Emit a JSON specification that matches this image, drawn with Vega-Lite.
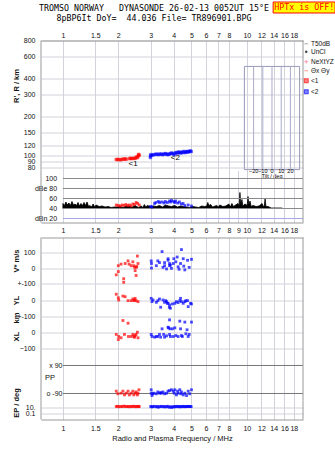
{
"$schema":"https://vega.github.io/schema/vega-lite/v6.json",
"padding":{"left":11,"top":1.5,"right":0,"bottom":0},
"background":"white",
"title":{"text":["TROMSO NORWAY\u00a0\u00a0\u00a0DYNASONDE 26-02-13 0052UT 15°E","8pBP6It DoY=\u00a0\u00a044.036 File= TR896901.BPG"],"font":"DejaVu Sans Mono","fontSize":8.3,"fontWeight":"normal","color":"#000","lineHeight":10,"anchor":"start","align":"center","dx":113,"offset":-20.5,"frame":"group"},
"datasets":{
"h":[
{"s":"<1","f":1.95,"h":92.5},{"s":"<1","f":1.98,"h":92.5},{"s":"<1","f":2.02,"h":92.5},{"s":"<1","f":2.06,"h":92},{"s":"<1","f":2.1,"h":93},{"s":"<1","f":2.14,"h":93},{"s":"<1","f":2.18,"h":93.5},{"s":"<1","f":2.21,"h":93},{"s":"<1","f":2.3,"h":94},{"s":"<1","f":2.33,"h":94.5},{"s":"<1","f":2.37,"h":94},{"s":"<1","f":2.41,"h":94.5},{"s":"<1","f":2.45,"h":94.5},{"s":"<1","f":2.49,"h":95},{"s":"<1","f":2.52,"h":97},{"s":"<1","f":2.55,"h":96},{"s":"<1","f":2.57,"h":99},{"s":"<1","f":2.6,"h":100},{"s":"<1","f":2.58,"h":101.5},
{"s":"<2","f":2.99,"h":96},{"s":"<2","f":3.0,"h":99},{"s":"<2","f":3.01,"h":101},{"s":"<2","f":3.06,"h":100},{"s":"<2","f":3.12,"h":101},{"s":"<2","f":3.18,"h":101.5},{"s":"<2","f":3.24,"h":102},{"s":"<2","f":3.3,"h":101},{"s":"<2","f":3.36,"h":102},{"s":"<2","f":3.42,"h":102},{"s":"<2","f":3.48,"h":101},{"s":"<2","f":3.54,"h":102},{"s":"<2","f":3.6,"h":103},{"s":"<2","f":3.66,"h":102},{"s":"<2","f":3.72,"h":101},{"s":"<2","f":3.78,"h":102},{"s":"<2","f":3.84,"h":103},{"s":"<2","f":3.9,"h":104},{"s":"<2","f":3.96,"h":103},{"s":"<2","f":4.02,"h":101},{"s":"<2","f":4.08,"h":104},{"s":"<2","f":4.14,"h":105},{"s":"<2","f":4.2,"h":104},{"s":"<2","f":4.26,"h":106},{"s":"<2","f":4.32,"h":105},{"s":"<2","f":4.38,"h":104},{"s":"<2","f":4.44,"h":106},{"s":"<2","f":4.5,"h":105},{"s":"<2","f":4.56,"h":107},{"s":"<2","f":4.62,"h":105},{"s":"<2","f":4.68,"h":106},{"s":"<2","f":4.74,"h":107},{"s":"<2","f":4.8,"h":106},{"s":"<2","f":4.86,"h":107},{"s":"<2","f":4.92,"h":108},{"s":"<2","f":4.98,"h":107}
],
"hlab":[{"s":"<1","f":2.41,"h":86},{"s":"<2","f":4.09,"h":95.5}],
"tilt":[{"t":-20},{"t":-10},{"t":0},{"t":10},{"t":20}],
"ampref":[{"db":100,"lab":"100"},{"db":80,"lab":"dBe 80"},{"db":60,"lab":"60"},{"db":40,"lab":"40"}],
"amp":[
{"f":1.0,"db":50},{"f":1.02,"db":46},{"f":1.038,"db":53},{"f":1.058,"db":47},{"f":1.078,"db":51},{"f":1.1,"db":46},{"f":1.12,"db":54},{"f":1.14,"db":47},{"f":1.163,"db":49},{"f":1.185,"db":46},{"f":1.208,"db":52},{"f":1.23,"db":45},{"f":1.254,"db":50},{"f":1.28,"db":46},{"f":1.302,"db":52},{"f":1.33,"db":46},{"f":1.352,"db":53},{"f":1.38,"db":44},{"f":1.404,"db":46},{"f":1.43,"db":43},{"f":1.459,"db":49},{"f":1.49,"db":43},{"f":1.515,"db":47},{"f":1.573,"db":44},{"f":1.634,"db":45},{"f":1.697,"db":43},{"f":1.762,"db":44},{"f":1.83,"db":42},{"f":1.9,"db":43},{"f":1.973,"db":43},{"f":2.049,"db":44},{"f":2.128,"db":42},{"f":2.21,"db":45},{"f":2.295,"db":44},{"f":2.384,"db":43},{"f":2.475,"db":46},{"f":2.571,"db":42},{"f":2.67,"db":45},{"f":2.72,"db":42},{"f":2.772,"db":48},{"f":2.82,"db":43},{"f":2.879,"db":46},{"f":2.99,"db":44},{"f":3.105,"db":45},{"f":3.225,"db":44},{"f":3.349,"db":46},{"f":3.478,"db":43},{"f":3.612,"db":47},{"f":3.751,"db":45},{"f":3.895,"db":44},{"f":4.045,"db":46},{"f":4.201,"db":43},{"f":4.363,"db":45},{"f":4.531,"db":44},{"f":4.705,"db":43},{"f":4.886,"db":42},{"f":5.074,"db":44},{"f":5.27,"db":43},{"f":5.472,"db":42},{"f":5.683,"db":45},{"f":5.902,"db":44},{"f":6.05,"db":45},{"f":6.13,"db":52},{"f":6.22,"db":46},{"f":6.366,"db":48},{"f":6.49,"db":43},{"f":6.61,"db":44},{"f":6.865,"db":46},{"f":7.0,"db":43},{"f":7.13,"db":47},{"f":7.404,"db":44},{"f":7.689,"db":45},{"f":7.985,"db":49},{"f":8.14,"db":43},{"f":8.292,"db":50},{"f":8.45,"db":44},{"f":8.612,"db":46},{"f":8.943,"db":50},{"f":9.08,"db":45},{"f":9.172,"db":72},{"f":9.26,"db":48},{"f":9.407,"db":58},{"f":9.5,"db":45},{"f":9.769,"db":49},{"f":10.05,"db":46},{"f":10.145,"db":64},{"f":10.25,"db":47},{"f":10.405,"db":55},{"f":10.55,"db":44},{"f":10.806,"db":46},{"f":11.222,"db":44},{"f":11.654,"db":45},{"f":12.102,"db":50},{"f":12.3,"db":44},{"f":12.45,"db":45},{"f":12.568,"db":60},{"f":12.7,"db":44},{"f":13.052,"db":44},{"f":13.555,"db":41},{"f":14.077,"db":41},{"f":14.619,"db":41},{"f":15.182,"db":41},{"f":15.57,"db":41}
],
"amppts":[
{"s":"<1","f":1.95,"db":47},{"s":"<1","f":2.0,"db":46},{"s":"<1","f":2.05,"db":45},{"s":"<1","f":2.1,"db":47},{"s":"<1","f":2.15,"db":46},{"s":"<1","f":2.2,"db":48},{"s":"<1","f":2.25,"db":46},{"s":"<1","f":2.3,"db":47},{"s":"<1","f":2.35,"db":45},{"s":"<1","f":2.4,"db":49},{"s":"<1","f":2.45,"db":48},{"s":"<1","f":2.5,"db":52},{"s":"<1","f":2.55,"db":50},{"s":"<1","f":2.6,"db":47},
{"s":"<2","f":3.0,"db":44},{"s":"<2","f":3.05,"db":43},{"s":"<2","f":3.15,"db":50},{"s":"<2","f":3.2,"db":52},{"s":"<2","f":3.3,"db":54},{"s":"<2","f":3.35,"db":52},{"s":"<2","f":3.45,"db":53},{"s":"<2","f":3.55,"db":51},{"s":"<2","f":3.6,"db":54},{"s":"<2","f":3.7,"db":52},{"s":"<2","f":3.8,"db":55},{"s":"<2","f":3.85,"db":53},{"s":"<2","f":3.9,"db":56},{"s":"<2","f":4.0,"db":54},{"s":"<2","f":4.05,"db":52},{"s":"<2","f":4.1,"db":55},{"s":"<2","f":4.2,"db":51},{"s":"<2","f":4.3,"db":53},{"s":"<2","f":4.4,"db":49},{"s":"<2","f":4.5,"db":50},{"s":"<2","f":4.6,"db":46},{"s":"<2","f":4.8,"db":47},{"s":"<2","f":5.0,"db":45}
],
"v":[
{"s":"<1","f":1.95,"v":-44},{"s":"<1","f":2.0,"v":-23},{"s":"<1","f":2.0,"v":15},{"s":"<1","f":2.07,"v":25},{"s":"<1","f":2.14,"v":-92},{"s":"<1","f":2.14,"v":-69},{"s":"<1","f":2.18,"v":29},{"s":"<1","f":2.26,"v":46},{"s":"<1","f":2.29,"v":25},{"s":"<1","f":2.35,"v":15},{"s":"<1","f":2.4,"v":40},{"s":"<1","f":2.43,"v":15},{"s":"<1","f":2.45,"v":5},{"s":"<1","f":2.47,"v":-17},{"s":"<1","f":2.5,"v":4},{"s":"<1","f":2.5,"v":-48},{"s":"<1","f":2.52,"v":10},{"s":"<1","f":2.54,"v":77},{"s":"<1","f":2.56,"v":29},
{"s":"<2","f":3.02,"v":46},{"s":"<2","f":3.03,"v":29},{"s":"<2","f":3.03,"v":0},{"s":"<2","f":3.22,"v":15},{"s":"<2","f":3.28,"v":46},{"s":"<2","f":3.35,"v":35},{"s":"<2","f":3.46,"v":106},{"s":"<2","f":3.5,"v":4},{"s":"<2","f":3.57,"v":35},{"s":"<2","f":3.57,"v":15},{"s":"<2","f":3.66,"v":-6},{"s":"<2","f":3.73,"v":50},{"s":"<2","f":3.8,"v":29},{"s":"<2","f":3.8,"v":15},{"s":"<2","f":3.73,"v":60},{"s":"<2","f":3.84,"v":19},{"s":"<2","f":3.89,"v":-2},{"s":"<2","f":3.98,"v":29},{"s":"<2","f":4.01,"v":60},{"s":"<2","f":4.11,"v":40},{"s":"<2","f":4.18,"v":71},{"s":"<2","f":4.23,"v":8},{"s":"<2","f":4.28,"v":-8},{"s":"<2","f":4.36,"v":29},{"s":"<2","f":4.41,"v":119},{"s":"<2","f":4.51,"v":60},{"s":"<2","f":4.54,"v":12},{"s":"<2","f":4.6,"v":-12},{"s":"<2","f":4.76,"v":50},{"s":"<2","f":4.86,"v":4},{"s":"<2","f":5.0,"v":56}
],
"yl":[
{"s":"<1","f":1.95,"v":35},{"s":"<1","f":2.0,"v":14},{"s":"<1","f":2.01,"v":0},{"s":"<1","f":2.12,"v":24},{"s":"<1","f":2.18,"v":20},{"s":"<1","f":2.26,"v":-4},{"s":"<1","f":2.35,"v":-4},{"s":"<1","f":2.4,"v":6},{"s":"<1","f":2.43,"v":-4},{"s":"<1","f":2.47,"v":10},{"s":"<1","f":2.5,"v":-4},{"s":"<1","f":2.56,"v":-10},{"s":"<1","f":2.45,"v":0},
{"s":"<2","f":3.02,"v":10},{"s":"<2","f":3.05,"v":-10},{"s":"<2","f":3.09,"v":0},{"s":"<2","f":3.22,"v":-14},{"s":"<2","f":3.28,"v":-4},{"s":"<2","f":3.35,"v":6},{"s":"<2","f":3.4,"v":-44},{"s":"<2","f":3.5,"v":0},{"s":"<2","f":3.57,"v":-14},{"s":"<2","f":3.62,"v":-4},{"s":"<2","f":3.7,"v":-20},{"s":"<2","f":3.79,"v":-44},{"s":"<2","f":3.66,"v":-10},{"s":"<2","f":3.73,"v":-20},{"s":"<2","f":3.8,"v":-30},{"s":"<2","f":3.84,"v":-50},{"s":"<2","f":3.94,"v":-24},{"s":"<2","f":4.06,"v":-20},{"s":"<2","f":4.14,"v":-10},{"s":"<2","f":4.23,"v":-16},{"s":"<2","f":4.32,"v":-4},{"s":"<2","f":4.36,"v":10},{"s":"<2","f":4.41,"v":-10},{"s":"<2","f":4.51,"v":-20},{"s":"<2","f":4.6,"v":-10},{"s":"<2","f":4.66,"v":-4},{"s":"<2","f":4.76,"v":-4},{"s":"<2","f":4.8,"v":-40},{"s":"<2","f":4.94,"v":-20},{"s":"<2","f":5.0,"v":-24}
],
"xl":[
{"s":"<1","f":1.95,"v":-12},{"s":"<1","f":2.0,"v":-44},{"s":"<1","f":2.01,"v":-25},{"s":"<1","f":2.07,"v":-33},{"s":"<1","f":2.12,"v":75},{"s":"<1","f":2.16,"v":-12},{"s":"<1","f":2.26,"v":58},{"s":"<1","f":2.27,"v":-25},{"s":"<1","f":2.35,"v":-25},{"s":"<1","f":2.4,"v":-12},{"s":"<1","f":2.43,"v":-25},{"s":"<1","f":2.45,"v":-30},{"s":"<1","f":2.47,"v":-19},{"s":"<1","f":2.5,"v":-12},{"s":"<1","f":2.54,"v":2},{"s":"<1","f":2.56,"v":-33},
{"s":"<2","f":3.02,"v":-12},{"s":"<2","f":3.05,"v":-25},{"s":"<2","f":3.15,"v":-29},{"s":"<2","f":3.22,"v":-25},{"s":"<2","f":3.28,"v":-25},{"s":"<2","f":3.35,"v":-12},{"s":"<2","f":3.4,"v":-29},{"s":"<2","f":3.46,"v":23},{"s":"<2","f":3.53,"v":-12},{"s":"<2","f":3.57,"v":-29},{"s":"<2","f":3.66,"v":-21},{"s":"<2","f":3.73,"v":33},{"s":"<2","f":3.8,"v":79},{"s":"<2","f":3.8,"v":-12},{"s":"<2","f":3.75,"v":29},{"s":"<2","f":3.82,"v":23},{"s":"<2","f":3.84,"v":-25},{"s":"<2","f":3.94,"v":23},{"s":"<2","f":3.98,"v":-25},{"s":"<2","f":4.06,"v":29},{"s":"<2","f":4.11,"v":-19},{"s":"<2","f":4.23,"v":-25},{"s":"<2","f":4.32,"v":71},{"s":"<2","f":4.36,"v":23},{"s":"<2","f":4.41,"v":-19},{"s":"<2","f":4.46,"v":-25},{"s":"<2","f":4.6,"v":65},{"s":"<2","f":4.66,"v":-8},{"s":"<2","f":4.73,"v":17},{"s":"<2","f":4.8,"v":-25},{"s":"<2","f":4.86,"v":-12},{"s":"<2","f":5.0,"v":65}
],
"pp":[
{"s":"<1","f":1.95,"v":-75},{"s":"<1","f":1.99,"v":-92},{"s":"<1","f":2.07,"v":-88},{"s":"<1","f":2.12,"v":-75},{"s":"<1","f":2.16,"v":-99},{"s":"<1","f":2.21,"v":-88},{"s":"<1","f":2.26,"v":-75},{"s":"<1","f":2.3,"v":-99},{"s":"<1","f":2.35,"v":-88},{"s":"<1","f":2.4,"v":-75},{"s":"<1","f":2.43,"v":-99},{"s":"<1","f":2.47,"v":-88},{"s":"<1","f":2.5,"v":-80},{"s":"<1","f":2.54,"v":-99},{"s":"<1","f":2.56,"v":-88},{"s":"<1","f":2.59,"v":-66},
{"s":"<2","f":3.02,"v":-66},{"s":"<2","f":3.02,"v":-88},{"s":"<2","f":3.05,"v":-103},{"s":"<2","f":3.08,"v":-92},{"s":"<2","f":3.12,"v":-88},{"s":"<2","f":3.22,"v":-92},{"s":"<2","f":3.28,"v":-80},{"s":"<2","f":3.35,"v":-88},{"s":"<2","f":3.4,"v":-84},{"s":"<2","f":3.43,"v":-88},{"s":"<2","f":3.5,"v":-80},{"s":"<2","f":3.57,"v":-92},{"s":"<2","f":3.66,"v":-88},{"s":"<2","f":3.73,"v":-75},{"s":"<2","f":3.8,"v":-71},{"s":"<2","f":3.89,"v":-66},{"s":"<2","f":3.98,"v":-75},{"s":"<2","f":4.03,"v":-88},{"s":"<2","f":4.06,"v":-66},{"s":"<2","f":4.14,"v":-99},{"s":"<2","f":4.2,"v":-75},{"s":"<2","f":4.23,"v":-88},{"s":"<2","f":4.32,"v":-66},{"s":"<2","f":4.38,"v":-92},{"s":"<2","f":4.41,"v":-80},{"s":"<2","f":4.51,"v":-99},{"s":"<2","f":4.6,"v":-88},{"s":"<2","f":4.7,"v":-103},{"s":"<2","f":4.8,"v":-75},{"s":"<2","f":4.89,"v":-92},{"s":"<2","f":5.0,"v":-66}
],
"ep":[
{"s":"<1","f":1.95,"v":22},{"s":"<1","f":1.98,"v":25},{"s":"<1","f":2.02,"v":18},{"s":"<1","f":2.06,"v":22},{"s":"<1","f":2.1,"v":20},{"s":"<1","f":2.14,"v":28},{"s":"<1","f":2.18,"v":24},{"s":"<1","f":2.22,"v":20},{"s":"<1","f":2.26,"v":22},{"s":"<1","f":2.3,"v":18},{"s":"<1","f":2.34,"v":24},{"s":"<1","f":2.38,"v":20},{"s":"<1","f":2.42,"v":26},{"s":"<1","f":2.46,"v":22},{"s":"<1","f":2.5,"v":18},{"s":"<1","f":2.54,"v":24},{"s":"<1","f":2.58,"v":20},{"s":"<1","f":2.6,"v":22},
{"s":"<2","f":3.0,"v":22},{"s":"<2","f":3.04,"v":15},{"s":"<2","f":3.08,"v":20},{"s":"<2","f":3.14,"v":25},{"s":"<2","f":3.2,"v":18},{"s":"<2","f":3.26,"v":22},{"s":"<2","f":3.3,"v":12},{"s":"<2","f":3.36,"v":20},{"s":"<2","f":3.42,"v":24},{"s":"<2","f":3.48,"v":18},{"s":"<2","f":3.54,"v":22},{"s":"<2","f":3.6,"v":15},{"s":"<2","f":3.66,"v":20},{"s":"<2","f":3.72,"v":25},{"s":"<2","f":3.78,"v":12},{"s":"<2","f":3.84,"v":18},{"s":"<2","f":3.9,"v":10},{"s":"<2","f":3.96,"v":20},{"s":"<2","f":4.02,"v":15},{"s":"<2","f":4.08,"v":22},{"s":"<2","f":4.14,"v":18},{"s":"<2","f":4.2,"v":24},{"s":"<2","f":4.26,"v":20},{"s":"<2","f":4.32,"v":16},{"s":"<2","f":4.38,"v":22},{"s":"<2","f":4.44,"v":18},{"s":"<2","f":4.5,"v":24},{"s":"<2","f":4.56,"v":20},{"s":"<2","f":4.62,"v":18},{"s":"<2","f":4.68,"v":22},{"s":"<2","f":4.74,"v":20},{"s":"<2","f":4.8,"v":24},{"s":"<2","f":4.86,"v":20},{"s":"<2","f":4.92,"v":22},{"s":"<2","f":4.98,"v":20}
]
},
"spacing":0,
"bounds":"flush",
"vconcat":[
{"width":262,"height":130,
 "layer":[
  {"layer":[
   {"data":{"name":"h"},"mark":{"type":"point","filled":true,"size":7,"strokeWidth":0.6},
    "encoding":{
     "x":{"field":"f","type":"quantitative","scale":{"type":"log","domain":[0.76,20.2],"nice":false},"axis":{"orient":"top","values":[1,1.5,2,3,4,5,6,7,8,10,12,14,16,18],"format":"~g","labelPadding":2.5,"domain":true,"grid":true,"title":null}},
     "y":{"field":"h","type":"quantitative","scale":{"type":"log","domain":[75.8,800],"nice":false},"axis":{"values":[80,90,100,120,150,200,300,400,600,800],"title":"R', R / km","titleX":-25,"titleY":45,"titleBaseline":"middle","grid":true,"domain":false}},
     "fill":{"field":"s","type":"nominal","scale":{"domain":["T50dB","UnCl","NeXtYZ","\u0398x \u0398y","<1","<2"],"range":["#999999","#000000","#ff7799","#ff8080","#ff0000","#0000ff"]},"legend":{"title":null,"orient":"right"}},
     "stroke":{"field":"s","type":"nominal","scale":{"domain":["T50dB","UnCl","NeXtYZ","\u0398x \u0398y","<1","<2"],"range":["#999999","#000000","#ff7799","#ff8080","#ff0000","#0000ff"]},"legend":{"title":null,"orient":"right"}},
     "shape":{"field":"s","type":"nominal","scale":{"domain":["T50dB","UnCl","NeXtYZ","\u0398x \u0398y","<1","<2"],"range":["stroke","M-0.35,0A0.35,0.35 0 1,0 0.35,0A0.35,0.35 0 1,0 -0.35,0Z","M-1,0H1M0,-1V1","stroke","square","square"]},"legend":{"title":null,"orient":"right"}}
    }},
   {"data":{"name":"hlab"},"mark":{"type":"text","fontSize":8,"color":"#000"},"encoding":{"x":{"field":"f","type":"quantitative"},"y":{"field":"h","type":"quantitative"},"text":{"field":"s"}}},
   {"data":{"values":[{}]},"mark":{"type":"rule","color":"#999"},"encoding":{"x":{"datum":0.76,"type":"quantitative"}}},
   {"data":{"values":[{}]},"mark":{"type":"rule","color":"#999"},"encoding":{"x":{"datum":20.2,"type":"quantitative"}}},
   {"data":{"values":[{}]},"mark":{"type":"rect","fill":"#ffff00","stroke":"#ff0000","strokeWidth":1},"encoding":{"x":{"datum":13.9,"type":"quantitative"},"x2":{"datum":30.2},"y":{"datum":1317,"type":"quantitative"},"y2":{"datum":1607}}},
   {"data":{"values":[{}]},"mark":{"type":"text","text":"HPTx is OFF!","color":"#ff0000","font":"DejaVu Sans Mono","fontSize":8.3},"encoding":{"x":{"datum":20.5,"type":"quantitative"},"y":{"datum":1455,"type":"quantitative"}}}
  ]},
  {"layer":[
   {"data":{"values":[{}]},"mark":{"type":"rect","fillOpacity":0,"stroke":"#9999bb","strokeWidth":1},"encoding":{"x":{"datum":-30,"type":"quantitative","scale":{"domain":[-251.1,33.7],"nice":false,"zero":false},"axis":null},"x2":{"datum":30},"y":{"datum":77,"type":"quantitative"},"y2":{"datum":500}}},
   {"data":{"name":"tilt"},"mark":{"type":"rule","color":"#aaaacc"},"encoding":{"x":{"field":"t","type":"quantitative","axis":null},"y":{"datum":77,"type":"quantitative"},"y2":{"datum":500}}},
   {"data":{"name":"tilt"},"mark":{"type":"text","fontSize":5.5,"baseline":"middle","color":"#000"},"encoding":{"x":{"field":"t","type":"quantitative","axis":null},"y":{"datum":75.8,"type":"quantitative"},"text":{"field":"t","type":"quantitative"}}},
   {"data":{"values":[{}]},"mark":{"type":"text","text":"Tilt / deg","fontSize":5.5,"baseline":"middle","color":"#000"},"encoding":{"x":{"datum":0,"type":"quantitative","axis":null},"y":{"datum":69,"type":"quantitative"}}}
  ]}
 ],
 "resolve":{"scale":{"x":"independent"},"axis":{"x":"independent"}}
},
{"width":262,"height":52,
 "layer":[
  {"data":{"name":"amp"},"mark":{"type":"area","color":"#000","stroke":"#000","strokeWidth":0.8,"interpolate":"linear"},
   "encoding":{
    "x":{"field":"f","type":"quantitative","scale":{"type":"log","domain":[0.76,20.2],"nice":false},"axis":{"orient":"bottom","values":[1,1.5,2,3,4,5,6,7,8,9,10,12,14,16,18],"format":"~g","labelPadding":3.5,"domain":true,"grid":true,"title":null}},
    "y":{"field":"db","type":"quantitative","scale":{"domain":[12,116],"nice":false,"zero":false},"axis":null},
    "y2":{"datum":40}}},
  {"data":{"name":"ampref"},"mark":{"type":"rule","color":"#8a8a8a"},"encoding":{"x":{"datum":1,"type":"quantitative"},"x2":{"datum":20.2},"y":{"field":"db","type":"quantitative"}}},
  {"data":{"values":[{}]},"mark":{"type":"rule","color":"#a8a8e8"},"encoding":{"x":{"datum":1,"type":"quantitative"},"x2":{"datum":20.2},"y":{"datum":20,"type":"quantitative"}}},
  {"data":{"name":"ampref"},"mark":{"type":"text","align":"right","baseline":"middle","fontSize":7,"color":"#111"},"encoding":{"x":{"datum":0.93,"type":"quantitative"},"y":{"field":"db","type":"quantitative"},"text":{"field":"lab"}}},
  {"data":{"values":[{}]},"mark":{"type":"text","text":"dBn 20","align":"right","baseline":"middle","fontSize":7,"color":"#111"},"encoding":{"x":{"datum":0.93,"type":"quantitative"},"y":{"datum":20,"type":"quantitative"}}},
  {"data":{"name":"amppts"},"mark":{"type":"square","size":8},"encoding":{"x":{"field":"f","type":"quantitative"},"y":{"field":"db","type":"quantitative"},"color":{"field":"s","type":"nominal","scale":{"domain":["<1","<2"],"range":["#ff0000","#0000ff"]},"legend":null}}},
  {"data":{"values":[{}]},"mark":{"type":"rule","color":"#999"},"encoding":{"x":{"datum":0.76,"type":"quantitative"}}},
  {"data":{"values":[{}]},"mark":{"type":"rule","color":"#999"},"encoding":{"x":{"datum":20.2,"type":"quantitative"}}}
 ]
},
{"width":262,"height":15,"data":{"values":[]},"mark":"point"},
{"width":262,"height":46,
 "layer":[
  {"data":{"name":"v"},"mark":{"type":"square","size":8},
   "encoding":{
    "x":{"field":"f","type":"quantitative","scale":{"type":"log","domain":[0.76,20.2],"nice":false},"axis":{"orient":"top","values":[1,1.5,2,3,4,5,6,7,8,10,12,14,16,18],"labels":false,"domain":true,"grid":true,"title":null}},
    "y":{"field":"v","type":"quantitative","scale":{"domain":[-100,197],"nice":false,"zero":false},"axis":{"values":[100,0,-100],"labelExpr":"datum.value == -100 ? '+-100' : datum.label","title":"V* m/s","titleX":-25,"titleBaseline":"middle","grid":true,"domain":false}},
    "color":{"field":"s","type":"nominal","scale":{"domain":["<1","<2"],"range":["#ff0000","#0000ff"]},"legend":null}}},
  {"data":{"values":[{}]},"mark":{"type":"rule","color":"#999"},"encoding":{"x":{"datum":0.76,"type":"quantitative"}}},
  {"data":{"values":[{}]},"mark":{"type":"rule","color":"#999"},"encoding":{"x":{"datum":20.2,"type":"quantitative"}}}
 ]
},
{"width":262,"height":33,
 "layer":[
  {"data":{"name":"yl"},"mark":{"type":"square","size":8},
   "encoding":{
    "x":{"field":"f","type":"quantitative","scale":{"type":"log","domain":[0.76,20.2],"nice":false},"axis":{"values":[1,1.5,2,3,4,5,6,7,8,10,12,14,16,18],"labels":false,"domain":false,"grid":true,"title":null}},
    "y":{"field":"v","type":"quantitative","scale":{"domain":[-100,100],"nice":false,"zero":false},"axis":{"values":[0,-100],"labelExpr":"datum.value == -100 ? '+-100' : datum.label","title":"YL","titleX":-25,"titleBaseline":"middle","grid":true,"domain":false}},
    "color":{"field":"s","type":"nominal","scale":{"domain":["<1","<2"],"range":["#ff0000","#0000ff"]},"legend":null}}},
  {"data":{"values":[{}]},"mark":{"type":"rule","color":"#999"},"encoding":{"x":{"datum":0.76,"type":"quantitative"}}},
  {"data":{"values":[{}]},"mark":{"type":"rule","color":"#999"},"encoding":{"x":{"datum":20.2,"type":"quantitative"}}}
 ]
},
{"width":262,"height":32,
 "layer":[
  {"data":{"name":"xl"},"mark":{"type":"square","size":8},
   "encoding":{
    "x":{"field":"f","type":"quantitative","scale":{"type":"log","domain":[0.76,20.2],"nice":false},"axis":{"values":[1,1.5,2,3,4,5,6,7,8,10,12,14,16,18],"labels":false,"domain":false,"grid":true,"title":null}},
    "y":{"field":"v","type":"quantitative","scale":{"domain":[-100,100],"nice":false,"zero":false},"axis":{"values":[0,-100],"title":"XL\u00a0\u00a0\u00a0\u00a0km","titleX":-25,"titleY":10,"titleBaseline":"middle","grid":true,"domain":false}},
    "color":{"field":"s","type":"nominal","scale":{"domain":["<1","<2"],"range":["#ff0000","#0000ff"]},"legend":null}}},
  {"data":{"values":[{}]},"mark":{"type":"rule","color":"#999"},"encoding":{"x":{"datum":0.76,"type":"quantitative"}}},
  {"data":{"values":[{}]},"mark":{"type":"rule","color":"#999"},"encoding":{"x":{"datum":20.2,"type":"quantitative"}}}
 ]
},
{"width":262,"height":52,
 "layer":[
  {"data":{"values":[{"v":90},{"v":-90}]},"mark":{"type":"rule","color":"#777"},"encoding":{"x":{"datum":1,"type":"quantitative"},"x2":{"datum":20.2},"y":{"field":"v","type":"quantitative"}}},
  {"data":{"name":"pp"},"mark":{"type":"square","size":8},
   "encoding":{
    "x":{"field":"f","type":"quantitative","scale":{"type":"log","domain":[0.76,20.2],"nice":false},"axis":{"values":[1,1.5,2,3,4,5,6,7,8,10,12,14,16,18],"labels":false,"domain":false,"grid":true,"title":null}},
    "y":{"field":"v","type":"quantitative","scale":{"domain":[-135,199],"nice":false,"zero":false},"axis":{"values":[90,-90],"labelExpr":"datum.value == 90 ? 'x 90' : 'o -90'","offset":-24,"labelPadding":3,"title":null,"grid":false,"domain":false}},
    "color":{"field":"s","type":"nominal","scale":{"domain":["<1","<2"],"range":["#ff0000","#0000ff"]},"legend":null}}},
  {"data":{"values":[{}]},"mark":{"type":"text","text":"PP","align":"left","baseline":"middle","fontSize":7.5,"color":"#111"},"encoding":{"x":{"datum":0.8,"type":"quantitative"},"y":{"datum":10,"type":"quantitative"}}},
  {"data":{"values":[{}]},"mark":{"type":"rule","color":"#999"},"encoding":{"x":{"datum":0.76,"type":"quantitative"}}},
  {"data":{"values":[{}]},"mark":{"type":"rule","color":"#999"},"encoding":{"x":{"datum":20.2,"type":"quantitative"}}}
 ]
},
{"width":262,"height":19,
 "layer":[
  {"data":{"name":"ep"},"mark":{"type":"square","size":8},
   "encoding":{
    "x":{"field":"f","type":"quantitative","scale":{"type":"log","domain":[0.76,20.2],"nice":false},"axis":{"orient":"bottom","values":[1,1.5,2,3,4,5,6,7,8,10,12,14,16,18],"format":"~g","labelPadding":4.5,"domain":true,"grid":true,"title":"Radio and Plasma Frequency / MHz","titlePadding":3.5,"titleFontWeight":"normal","titleFontSize":7.5}},
    "y":{"field":"v","type":"quantitative","scale":{"type":"log","domain":[0.001,2154],"nice":false},"axis":{"values":[10,0.1],"labelExpr":"datum.value == 10 ? '10.' : '0.1'","title":"EP / deg","titleX":-25,"titleY":2,"titleBaseline":"middle","grid":true,"domain":false}},
    "color":{"field":"s","type":"nominal","scale":{"domain":["<1","<2"],"range":["#ff0000","#0000ff"]},"legend":null}}},
  {"data":{"values":[{}]},"mark":{"type":"rule","color":"#999"},"encoding":{"x":{"datum":0.76,"type":"quantitative"}}},
  {"data":{"values":[{}]},"mark":{"type":"rule","color":"#999"},"encoding":{"x":{"datum":20.2,"type":"quantitative"}}}
 ]
}
],
"resolve":{"scale":{"color":"independent","fill":"independent","stroke":"independent","shape":"independent"},"legend":{"color":"independent","fill":"independent","stroke":"independent","shape":"independent"}},
"config":{
 "view":{"stroke":null},
 "font":"Liberation Sans",
 "axis":{"labelFont":"Liberation Sans","labelFontSize":7,"labelColor":"#111","titleFont":"Liberation Sans","titleFontSize":7.5,"titleFontWeight":"bold","titleColor":"#111","ticks":false,"tickSize":0,"gridColor":"#d2d2da","domainColor":"#999","labelPadding":6,"labelFlush":false,"labelOverlap":false,"labelBound":false},
 "legend":{"labelFont":"Liberation Sans","labelFontSize":6.5,"labelColor":"#111","symbolSize":14,"symbolStrokeWidth":1.2,"rowPadding":1,"padding":0,"offset":0,"labelOffset":1.5,"labelLimit":40}
}
}
